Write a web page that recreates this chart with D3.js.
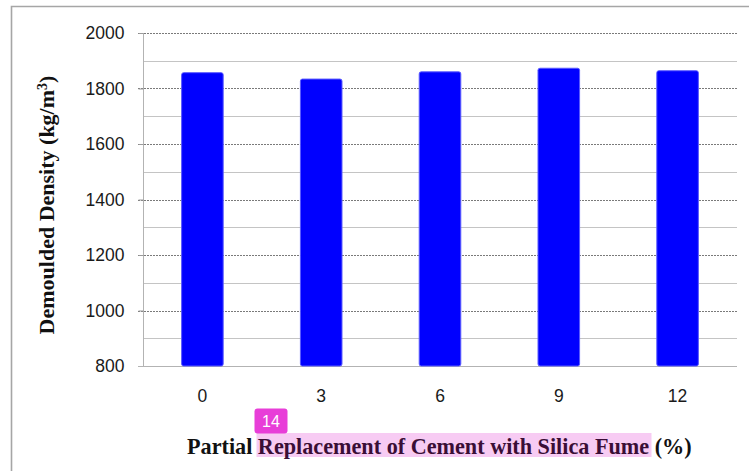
<!DOCTYPE html>
<html>
<head>
<meta charset="utf-8">
<script src="https://cdn.jsdelivr.net/npm/d3@7"></script>
<style>
  html, body { margin: 0; padding: 0; background: #fff; }
  svg { display: block; }
</style>
</head>
<body>
<svg id="chart" width="749" height="471"></svg>
<script>
// Silica fume replacement levels (%) and the demoulded density of each mix
const categories = ["0", "3", "6", "9", "12"];
const densities = [1857, 1834, 1860, 1873, 1864];
const yTicks = [800, 1000, 1200, 1400, 1600, 1800, 2000];
const yMinorTicks = [900, 1100, 1300, 1500, 1700, 1900];

const svg = d3.select("#chart");
const W = 749, H = 471;
const plot = { left: 143, right: 737, top: 33, bottom: 366 };

// Outer chart frame (top and left edges)
svg.append("path")
  .attr("d", `M11.5,${H} L11.5,6.5 L${W},6.5`)
  .attr("fill", "none")
  .attr("stroke", "#a6a6a6")
  .attr("stroke-width", 1.6);

const x = d3.scaleBand()
  .domain(categories)
  .range([plot.left, plot.right])
  .paddingInner(0.65)
  .paddingOuter(0.325);

const y = d3.scaleLinear()
  .domain([800, 2000])
  .range([plot.bottom, plot.top]);

// Minor gridlines: solid light grey
svg.append("g")
  .selectAll("line")
  .data(yMinorTicks)
  .join("line")
  .attr("x1", plot.left).attr("x2", plot.right)
  .attr("y1", d => Math.round(y(d)) + 0.5)
  .attr("y2", d => Math.round(y(d)) + 0.5)
  .attr("stroke", "#c4c4c4")
  .attr("stroke-width", 1);

// Major gridlines: dotted dark grey, running through the tick marks
svg.append("g")
  .selectAll("line")
  .data(yTicks.filter(d => d > 800))
  .join("line")
  .attr("x1", plot.left - 5).attr("x2", plot.right)
  .attr("y1", d => Math.round(y(d)) + 0.5)
  .attr("y2", d => Math.round(y(d)) + 0.5)
  .attr("stroke", "#7a7a7a")
  .attr("stroke-width", 1)
  .attr("stroke-dasharray", "2,1");

// Y axis
const yAxis = svg.append("g")
  .attr("transform", `translate(${plot.left + 0.5},0)`)
  .call(d3.axisLeft(y).tickValues(yTicks).tickSize(5).tickPadding(14).tickFormat(d3.format("d")));
yAxis.select(".domain").attr("stroke", "#b3b3b3").attr("d", `M0,${plot.top}V${plot.bottom}`);
yAxis.selectAll(".tick line").attr("stroke", "#9a9a9a");
yAxis.selectAll(".tick text")
  .attr("font-family", "'Liberation Sans', Arial, sans-serif")
  .attr("font-size", 17.5)
  .attr("fill", "#1a1a1a");

// X axis
const xAxis = svg.append("g")
  .attr("transform", `translate(0,${plot.bottom + 0.5})`)
  .call(d3.axisBottom(x).tickSize(0).tickPadding(23));
xAxis.select(".domain").attr("stroke", "#b3b3b3").attr("d", `M${plot.left - 5},0H${plot.right}`);
xAxis.selectAll(".tick text")
  .attr("font-family", "'Liberation Sans', Arial, sans-serif")
  .attr("font-size", 17.5)
  .attr("fill", "#1a1a1a");

// Bars
svg.append("g")
  .selectAll("rect")
  .data(categories.map((c, i) => ({ c, v: densities[i] })))
  .join("rect")
  .attr("x", d => x(d.c))
  .attr("y", d => y(d.v))
  .attr("width", x.bandwidth())
  .attr("height", d => y(800) - y(d.v))
  .attr("rx", 2)
  .attr("fill", "#0000ff")
  .attr("stroke", "#5a5aff")
  .attr("stroke-width", 1);

// Y axis title
svg.append("text")
  .attr("transform", "translate(54,205) rotate(-90)")
  .attr("text-anchor", "middle")
  .attr("font-family", "'Liberation Serif', 'Times New Roman', serif")
  .attr("font-weight", "bold")
  .attr("font-size", 22)
  .attr("fill", "#111")
  .call(t => {
    t.append("tspan").text("Demoulded Density (kg/m");
    t.append("tspan").attr("baseline-shift", "super").attr("font-size", 14).text("3");
    t.append("tspan").text(")");
  });

// Highlight behind part of the x axis title
svg.append("rect")
  .attr("x", 256.5).attr("y", 433)
  .attr("width", 395).attr("height", 24)
  .attr("fill", "#f7cbf3");

// X axis title
const xTitle = svg.append("text")
  .attr("x", 187).attr("y", 454)
  .attr("font-family", "'Liberation Serif', 'Times New Roman', serif")
  .attr("font-weight", "bold")
  .attr("font-size", 22.2)
  .attr("fill", "#111");
xTitle.append("tspan").text("Partial ");
xTitle.append("tspan").attr("fill", "#3a0e36").text("Replacement of Cement with Silica Fume");
xTitle.append("tspan").text(" (%)");

// Numbered badge
svg.append("rect")
  .attr("x", 254.5).attr("y", 408.5)
  .attr("width", 33).attr("height", 25)
  .attr("rx", 3)
  .attr("fill", "#e83ed8");
svg.append("text")
  .attr("x", 271).attr("y", 427)
  .attr("text-anchor", "middle")
  .attr("font-family", "'Liberation Sans', Arial, sans-serif")
  .attr("font-size", 16)
  .attr("fill", "#fff")
  .text("14");
</script>
</body>
</html>
